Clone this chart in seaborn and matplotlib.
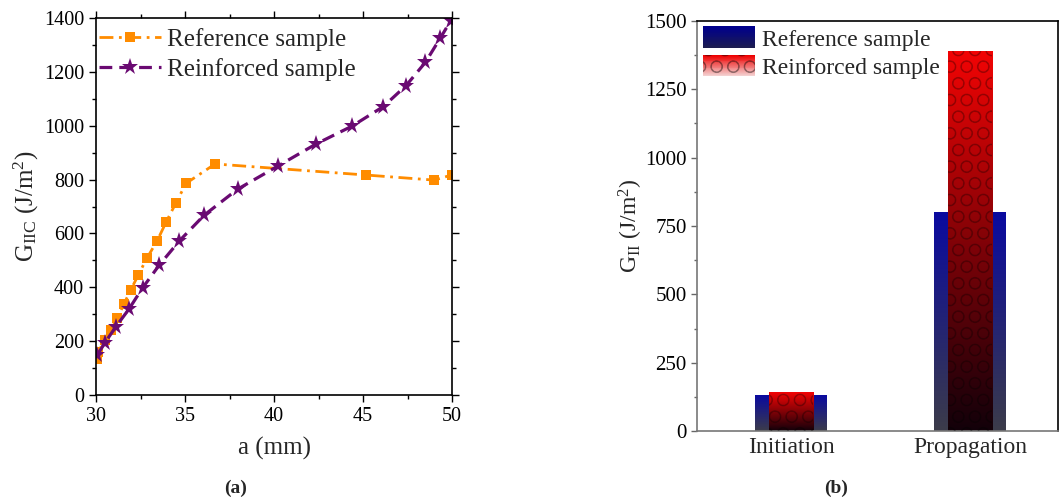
import numpy as np
import matplotlib
matplotlib.use("Agg")
import matplotlib.pyplot as plt
import seaborn as sns
from matplotlib.colors import LinearSegmentedColormap, to_rgb
from matplotlib.patches import Rectangle, Patch
from matplotlib.legend_handler import HandlerBase
from matplotlib.ticker import MultipleLocator

# --- data (a): G_IIC vs crack length ---
a_ref = [30.04, 30.13, 30.5, 30.83, 31.2, 31.57, 31.95, 32.38, 32.85, 33.44,
         33.93, 34.48, 35.06, 36.69, 45.15, 49.0, 49.98]
g_ref = [132, 161, 204, 241, 285, 338, 390, 446, 507, 573,
         641, 712, 786, 858, 817, 798, 817]
a_reinf = [30.07, 30.5, 31.12, 31.85, 32.62, 33.56, 34.68, 36.08, 37.95, 40.24,
           42.36, 44.4, 46.14, 47.42, 48.5, 49.33, 49.93]
g_reinf = [148, 194, 254, 319, 398, 483, 572, 668, 764, 851,
           932, 999, 1071, 1149, 1235, 1324, 1390]

# --- data (b): initiation / propagation ---
stages = ["Initiation", "Propagation"]
gii_ref = [130, 800]
gii_reinf = [142, 1390]

sns.set_style("ticks")
plt.rcParams["font.family"] = ["Liberation Serif", "DejaVu Serif"]
plt.rcParams["mathtext.fontset"] = "custom"
plt.rcParams["mathtext.rm"] = "Liberation Serif"
plt.rcParams["mathtext.it"] = "Liberation Serif:italic"
plt.rcParams["hatch.linewidth"] = 0.8

W, H = 1059, 499
fig = plt.figure(figsize=(W / 100, H / 100), dpi=100)
ax1 = fig.add_axes([96 / W, 1 - 395 / H, (452 - 96) / W, (395 - 18) / H])
ax2 = fig.add_axes([697 / W, 1 - 431 / H, (1058 - 697) / W, (431 - 21) / H])

# ---------------- (a) ----------------
orange = "#ff8c00"
purple = "#6a0a72"
sns.lineplot(x=a_ref, y=g_ref, ax=ax1, color=orange, marker="s", markersize=7.5,
             markeredgewidth=0, linewidth=2.0, linestyle=(0, (5, 2, 1, 2)),
             label="Reference sample")
sns.lineplot(x=a_reinf, y=g_reinf, ax=ax1, color=purple, marker="*", markersize=12.5,
             markeredgewidth=0, linewidth=2.3, linestyle=(0, (4, 2.2)),
             label="Reinforced sample")
ax1.set_xlim(30, 50)
ax1.set_ylim(0, 1400)
ax1.xaxis.set_major_locator(MultipleLocator(5))
ax1.xaxis.set_minor_locator(MultipleLocator(2.5))
ax1.yaxis.set_major_locator(MultipleLocator(200))
ax1.yaxis.set_minor_locator(MultipleLocator(100))
ax1.tick_params(which="both", direction="out", top=True, right=True,
                labelsize=14.5, colors="black")
ax1.tick_params(which="major", length=5, width=1)
ax1.tick_params(which="minor", length=3, width=1)
for s in ax1.spines.values():
    s.set_color("black")
    s.set_linewidth(1.2)
ax1.set_xlabel("a (mm)", fontsize=18, labelpad=8)
ax1.set_ylabel(r"G$_{\mathrm{IIC}}$ (J/m$^{2}$)", fontsize=18, labelpad=2)
ax1.legend(loc="upper left", bbox_to_anchor=(0.0, 0.98), frameon=False,
           fontsize=18, handlelength=2.5, handletextpad=0.25, borderaxespad=0.0,
           borderpad=0.1, labelspacing=0.27, numpoints=1)

# ---------------- (b) ----------------
blue_cmap = LinearSegmentedColormap.from_list("bl", ["#3c3c4a", "#0a0aa0"])
red_cmap = LinearSegmentedColormap.from_list("rd", ["#12000a", "#f20404"])
grad = np.linspace(0, 1, 256).reshape(-1, 1)

sns.barplot(x=stages, y=gii_ref, ax=ax2, width=0.4, color="#0a0aa0")
n_ref = len(ax2.patches)
sns.barplot(x=stages, y=gii_reinf, ax=ax2, width=0.25, color="#f20404")

for i, p in enumerate(ax2.patches):
    x0, y0, w, h = p.get_x(), p.get_y(), p.get_width(), p.get_height()
    is_red = i >= n_ref
    im = ax2.imshow(grad, extent=[x0, x0 + w, y0, y0 + h], origin="lower",
                    aspect="auto", cmap=red_cmap if is_red else blue_cmap,
                    zorder=2.5 if is_red else 1.5)
    im.set_clip_path(p)
    p.set_facecolor("none")
    p.set_linewidth(0)
    if is_red:
        p.set_zorder(2.6)
        p.set_hatch("O")
        p.set_edgecolor((0, 0, 0, 0.22))
    else:
        p.set_edgecolor("none")

ax2.set_xlim(-0.525, 1.492)
ax2.set_ylim(0, 1500)
ax2.yaxis.set_major_locator(MultipleLocator(250))
ax2.yaxis.set_minor_locator(MultipleLocator(125))
ax2.tick_params(axis="y", which="both", direction="out", labelsize=15, colors="black")
ax2.tick_params(axis="y", which="major", length=4, width=1, color="#666666")
ax2.tick_params(axis="y", which="minor", length=2, width=1, color="#666666")
ax2.tick_params(axis="x", length=0, labelsize=17, pad=4)
ax2.spines["left"].set_color("#777777")
ax2.spines["bottom"].set_color("#777777")
ax2.spines["top"].set_color("black")
ax2.spines["right"].set_color("black")
for s in ax2.spines.values():
    s.set_linewidth(1.2)
ax2.set_xlabel("")
ax2.set_ylabel(r"G$_{\mathrm{II}}$ (J/m$^{2}$)", fontsize=17, labelpad=0)


class GradHandler(HandlerBase):
    def __init__(self, top, bottom, hatch=None):
        super().__init__()
        self.top, self.bottom, self.hatch = to_rgb(top), to_rgb(bottom), hatch

    def create_artists(self, legend, orig_handle, xdescent, ydescent,
                       width, height, fontsize, trans):
        n = 24
        arts = []
        for k in range(n):
            f = k / (n - 1)
            col = tuple(b + (t - b) * f for t, b in zip(self.top, self.bottom))
            arts.append(Rectangle((-xdescent, -ydescent + k * height / n), width,
                                  height / n + 0.3, facecolor=col, edgecolor="none",
                                  transform=trans))
        if self.hatch:
            arts.append(Rectangle((-xdescent, -ydescent), width, height,
                                  facecolor="none", edgecolor=(0, 0, 0, 0.3),
                                  linewidth=0, hatch=self.hatch, transform=trans))
        return arts


h_ref, h_reinf = Patch(), Patch()
ax2.legend([h_ref, h_reinf], ["Reference sample", "Reinforced sample"],
           handler_map={h_ref: GradHandler("#00008c", "#1c1c50"),
                        h_reinf: GradHandler("#ee0000", "#f4d8d8", hatch="O")},
           loc="upper left", frameon=False, fontsize=17, handlelength=2.2,
           handleheight=1.0, handletextpad=0.3, borderaxespad=0.1,
           borderpad=0.15, labelspacing=0.2)

fig.text(236 / W, 1 - 488 / H, "(a)", fontsize=14, fontweight="bold",
         ha="center", va="center")
fig.text(836 / W, 1 - 488 / H, "(b)", fontsize=14, fontweight="bold",
         ha="center", va="center")

fig.savefig("out.png", dpi=100)
